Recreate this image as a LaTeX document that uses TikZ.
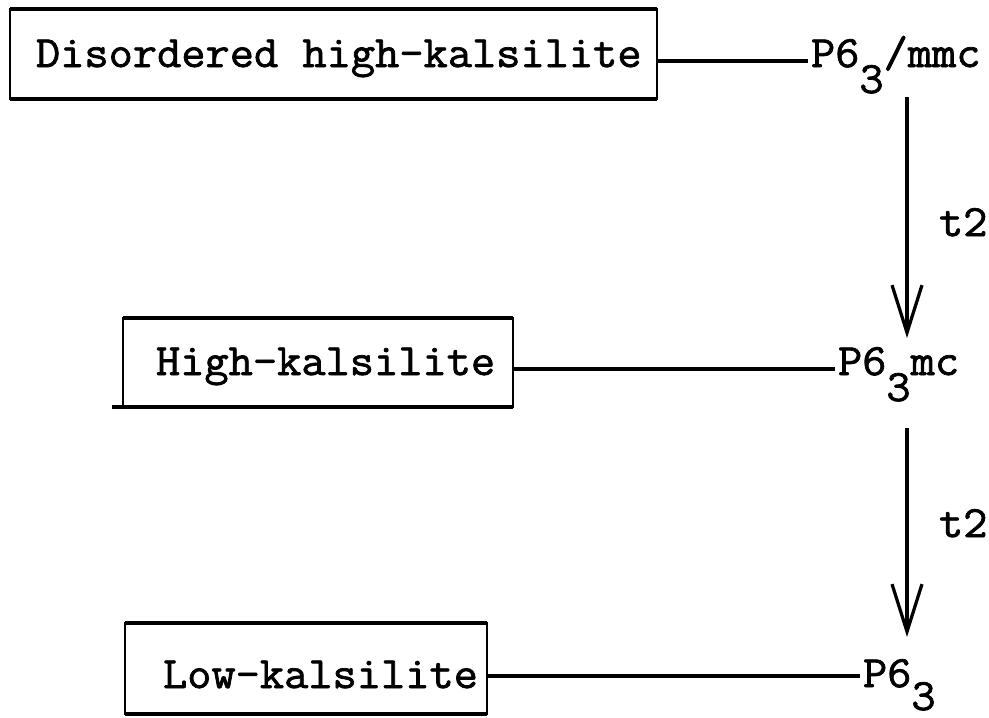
\documentclass[tikz,border=0pt]{standalone}
\usepackage{fontspec}
\usetikzlibrary{arrows.meta}
\newfontfamily\typew[FakeStretch=1.05, FakeBold=1.6]{Latin Modern Mono}
\newcommand{\lowthree}[1][0.52cm]{\raisebox{-#1}{3}}
\begin{document}
\begin{tikzpicture}[x=0.02cm,y=-0.02cm,
  every node/.style={font=\typew\fontsize{25.5}{30}\selectfont, inner sep=0pt, outer sep=0pt},
  boxst/.style={draw, line width=0.05cm},
  edgest/.style={line width=0.09cm},
  conn/.style={line width=0.075cm, shorten >=0.06cm},
  arr/.style={line width=0.065cm, -{Straight Barb[length=0.95cm, width=0.6cm, line width=0.065cm]}},
  lbl/.style={anchor=base west}]
\useasboundingbox (0,0) rectangle (989,717);

% boxes
\node[boxst, minimum width=647*0.02cm, minimum height=90*0.02cm] (b1) at (333.5,54) {};
\node[boxst, minimum width=390*0.02cm, minimum height=89*0.02cm] (b2) at (318,362.5) {};
\node[boxst, minimum width=362*0.02cm, minimum height=91*0.02cm] (b3) at (306,668.5) {};
\foreach \b in {b1,b2,b3}{
  \draw[edgest] (\b.north west) -- (\b.north east);
  \draw[edgest] (\b.south west) -- (\b.south east);
}
\draw[edgest] (b2.south west) -- ++(-11,0);

% phase names
\node[lbl] (t1) at (36,67) {Disordered high-kalsilite};
\node[lbl] (t2) at (156,375) {High-kalsilite};
\node[lbl] (t3) at (163,688) {Low-kalsilite};

% space groups
\node[lbl] (p1) at (811,67) {P6\lowthree/mmc};
\node[lbl] (p2) at (838,375) {P6\lowthree mc};
\node[lbl] (p3) at (863,687) {P6\lowthree[0.46cm]};

% connectors from boxes to space groups
\draw[conn] (b1.east) ++(0,7) coordinate (l1) -- (l1 -| p1.west);
\draw[conn] (b2.east) ++(0,6.5) coordinate (l2) -- (l2 -| p2.west);
\draw[conn] (b3.east) ++(0,7.5) coordinate (l3) -- (l3 -| p3.west);

% transitions
\coordinate (a1s) at (907,97);
\coordinate (a1e) at (907,338);
\coordinate (a2s) at (907,428);
\coordinate (a2e) at (907,637);
\draw[arr] (a1s) -- (a1e);
\draw[arr] (a2s) -- (a2e);
\node[lbl] (k1) at (939,236) {t2};
\node[lbl] (k2) at (939,537) {t2};
\end{tikzpicture}
\end{document}
